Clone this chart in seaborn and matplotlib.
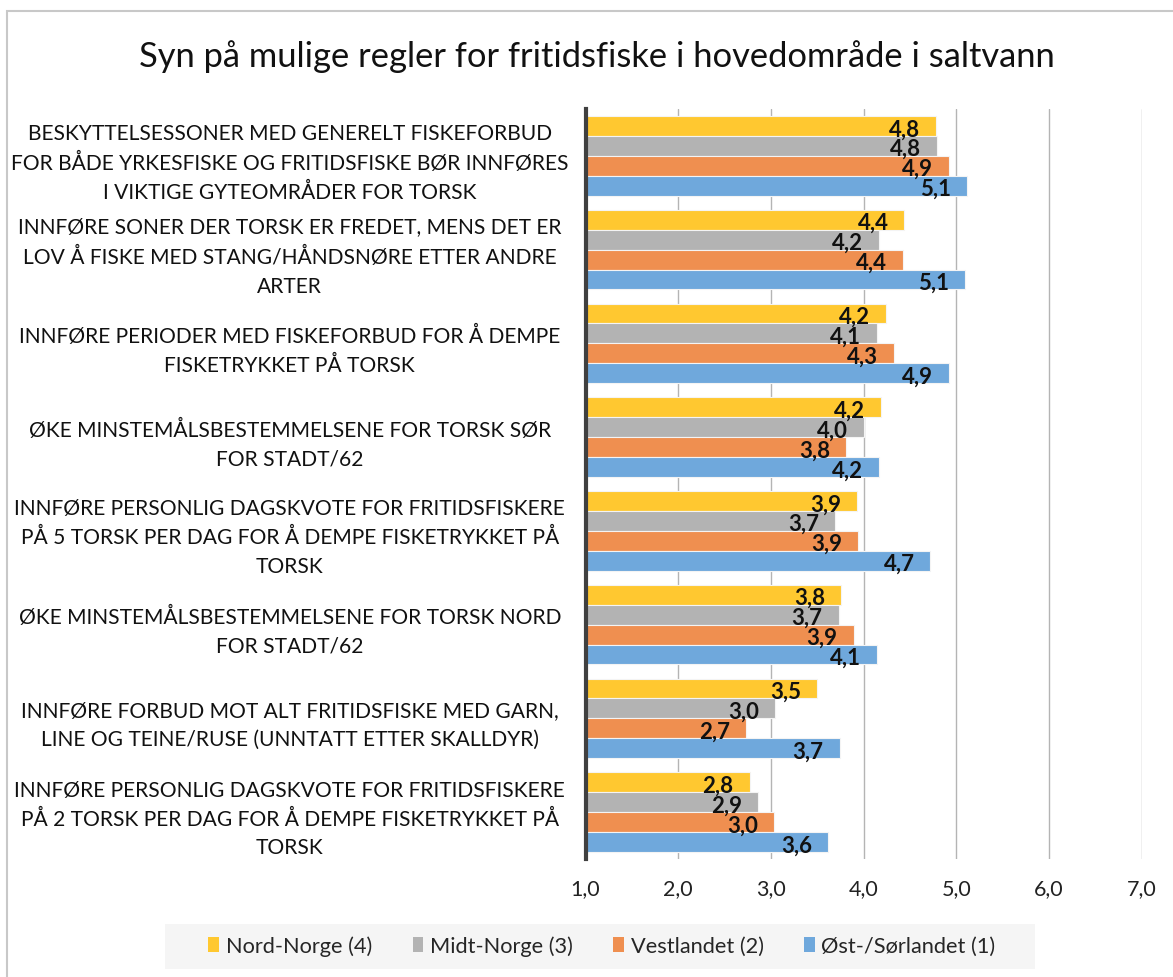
import matplotlib
matplotlib.use('Agg')
import matplotlib.pyplot as plt
import seaborn as sns
import pandas as pd
from matplotlib.patches import Rectangle, Patch

categories = [
    "BESKYTTELSESSONER MED GENERELT FISKEFORBUD\nFOR BÅDE YRKESFISKE OG FRITIDSFISKE BØR INNFØRES\nI VIKTIGE GYTEOMRÅDER FOR TORSK",
    "INNFØRE SONER DER TORSK ER FREDET, MENS DET ER\nLOV Å FISKE MED STANG/HÅNDSNØRE ETTER ANDRE\nARTER",
    "INNFØRE PERIODER MED FISKEFORBUD FOR Å DEMPE\nFISKETRYKKET PÅ TORSK",
    "ØKE MINSTEMÅLSBESTEMMELSENE FOR TORSK SØR\nFOR STADT/62",
    "INNFØRE PERSONLIG DAGSKVOTE FOR FRITIDSFISKERE\nPÅ 5 TORSK PER DAG FOR Å DEMPE FISKETRYKKET PÅ\nTORSK",
    "ØKE MINSTEMÅLSBESTEMMELSENE FOR TORSK NORD\nFOR STADT/62",
    "INNFØRE FORBUD MOT ALT FRITIDSFISKE MED GARN,\nLINE OG TEINE/RUSE (UNNTATT ETTER SKALLDYR)",
    "INNFØRE PERSONLIG DAGSKVOTE FOR FRITIDSFISKERE\nPÅ 2 TORSK PER DAG FOR Å DEMPE FISKETRYKKET PÅ\nTORSK",
]
series = ["Nord-Norge (4)", "Midt-Norge (3)", "Vestlandet (2)", "Øst-/Sørlandet (1)"]
nord_norge = [4.78, 4.44, 4.24, 4.19, 3.93, 3.76, 3.50, 2.77]
midt_norge = [4.79, 4.16, 4.14, 4.00, 3.69, 3.73, 3.04, 2.86]
vestlandet = [4.92, 4.42, 4.33, 3.81, 3.94, 3.89, 2.73, 3.03]
ost_sorlandet = [5.11, 5.09, 4.92, 4.16, 4.72, 4.14, 3.74, 3.62]
colors = ['#FFC830', '#B3B3B3', '#EF8F50', '#6FA8DC']
xticks = [1, 2, 3, 4, 5, 6, 7]
title = "Syn på mulige regler for fritidsfiske i hovedområde i saltvann"

all_values = [nord_norge, midt_norge, vestlandet, ost_sorlandet]
rows = []
for s, vals in zip(series, all_values):
    for c, v in zip(categories, vals):
        rows.append({"cat": c, "series": s, "value": v})
df = pd.DataFrame(rows)

sns.set_style('white')
plt.rcParams['font.family'] = ['Lato', 'DejaVu Sans']

fig = plt.figure(figsize=(11.73, 9.78), dpi=100)
W, H = 1173, 978
ax = fig.add_axes([585.6 / W, 1 - 860 / H, (1141.8 - 585.6) / W, 750 / H])

sns.barplot(data=df, y="cat", x="value", hue="series", order=categories,
            hue_order=series, palette=colors, orient='h', width=0.85,
            edgecolor='#f4f4f4', linewidth=0.8, saturation=1, legend=False, ax=ax)

ax.set_xlim(1, 7)
ax.set_xticks(xticks)
ax.set_xticklabels([f"{t:.1f}".replace('.', ',') for t in xticks], fontsize=15.5, color='#222222')
ax.tick_params(axis='x', length=0, pad=14)
ax.tick_params(axis='y', length=0, pad=213)
for lab in ax.get_yticklabels():
    lab.set_ha('center')
    lab.set_multialignment('center')
    lab.set_fontsize(15.1)
    lab.set_linespacing(1.55)
    lab.set_color('#111111')
ax.set_xlabel('')
ax.set_ylabel('')
ax.set_axisbelow(True)
ax.grid(axis='x', color='#b4b4b4', linewidth=1.0)
ax.grid(axis='y', visible=False)
for side in ['top', 'right', 'bottom']:
    ax.spines[side].set_visible(False)
ax.spines['left'].set_color('#404040')
ax.spines['left'].set_linewidth(3)
ax.spines['left'].set_zorder(5)

for container, vals in zip(ax.containers, all_values):
    for patch, v in zip(container.patches, vals):
        yc = patch.get_y() + patch.get_height() / 2
        ax.annotate(f"{v:.1f}".replace('.', ','), xy=(v, yc), xytext=(-11.5, -2),
                    textcoords='offset points', ha='right', va='center',
                    fontsize=16, fontweight='bold', color='#111111', zorder=6)

fig.text(597 / W, 1 - 57 / H, title, ha='center', va='center', fontsize=24.8, color='#111111')

handles = [Patch(facecolor=c, edgecolor='none') for c in colors]
fig.patches.append(Rectangle((165 / W, 1 - 970 / H), 870 / W, 45 / H, transform=fig.transFigure,
                             facecolor='#f5f5f5', edgecolor='none', zorder=0))
fig.legend(handles, series, loc='center', bbox_to_anchor=(602 / W, 1 - 947 / H), ncol=4,
           frameon=False, handlelength=0.5, handleheight=0.65, handletextpad=0.3,
           columnspacing=1.85, fontsize=15.7)

fig.patches.append(Rectangle((7 / W, -0.1), 1.2, (1 - 12 / H) + 0.1, transform=fig.transFigure,
                             fill=False, edgecolor='#c8c8c8', linewidth=1.5, zorder=0))

fig.savefig('out.png', dpi=100)
